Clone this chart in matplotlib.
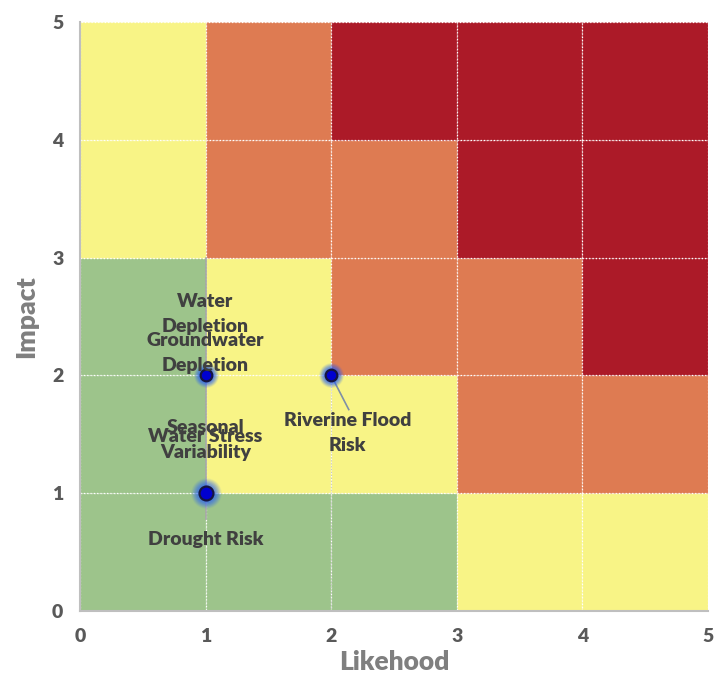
import matplotlib.pyplot as plt
from matplotlib.patches import Rectangle
import numpy as np

plt.rcParams['font.family'] = ['Lato', 'DejaVu Sans']

# risk level of each cell, rows from impact 0-1 (bottom) to 4-5 (top)
levels = [
    [0, 0, 0, 1, 1],
    [0, 1, 1, 2, 2],
    [0, 1, 2, 2, 3],
    [1, 2, 2, 3, 3],
    [1, 2, 3, 3, 3],
]
level_colors = ['#9DC48B', '#F8F486', '#DE7B52', '#AC1A28']

# risks: likelihood, impact
risk_names = ['Water\nDepletion', 'Groundwater\nDepletion', 'Riverine Flood\nRisk',
              'Seasonal\nVariability', 'Water Stress', 'Drought Risk']
likelihood = [1, 1, 2, 1, 1, 1]
impact = [2, 2, 2, 1, 1, 1]
label_x = [1.0, 1.0, 2.13, 1.0, 1.0, 1.0]
label_y = [2.52, 2.19, 1.51, 1.45, 1.48, 0.61]

fig = plt.figure(figsize=(7.16, 6.82), dpi=100)
ax = fig.add_axes([0.1117, 0.1041, 0.8771, 0.8636])

for r, row in enumerate(levels):
    for c, lv in enumerate(row):
        ax.add_patch(Rectangle((c, r), 1, 1, facecolor=level_colors[lv],
                               edgecolor='white', linestyle=':', linewidth=0.9, zorder=1))

# gray guide lines
ax.plot([1, 1], [0.78, 3], color='#A6A6A6', lw=1.2, zorder=2)
ax.plot([2, 2], [0, 2], color='#C8C8C8', lw=0.8, ls=':', zorder=2)

# leader line for the flood label
ax.plot([2.0, 2.14], [2.0, 1.71], color='#7F8FA6', lw=1.2, zorder=3)

# points with a soft blue glow
pts = sorted(set(zip(likelihood, impact)))
for (px, py) in pts:
    big = (px, py) == (1, 1)
    for s, a in zip(np.linspace(480 if big else 320, 90, 8), np.linspace(0.07, 0.25, 8)):
        ax.scatter(px, py, s=s, color='#1F5BFF', alpha=a, lw=0, zorder=4)
    ax.scatter(px, py, s=100 if big else 70, color='#0000D0', edgecolor='#151540',
               linewidth=1.6, zorder=5)

for name, x, y in zip(risk_names, label_x, label_y):
    ax.text(x, y, name, ha='center', va='center', fontsize=14, fontweight='heavy',
            color='#404040', linespacing=1.55, zorder=6)

ax.set_xlim(0, 5)
ax.set_ylim(0, 5)
ax.set_xticks(range(6))
ax.set_yticks(range(6))
ax.tick_params(length=0, labelsize=14, labelcolor='#595959', pad=12)
for lab in ax.get_xticklabels() + ax.get_yticklabels():
    lab.set_fontweight('heavy')
ax.set_xlabel('Likehood', fontsize=19, fontweight='heavy', color='#7F7F7F', labelpad=4)
ax.set_ylabel('Impact', fontsize=19, fontweight='heavy', color='#7F7F7F', labelpad=10)

for s in ['top', 'right']:
    ax.spines[s].set_visible(False)
for s in ['left', 'bottom']:
    ax.spines[s].set_color('#BFBFBF')
    ax.spines[s].set_linewidth(1.5)

fig.savefig('out.png', dpi=100)
